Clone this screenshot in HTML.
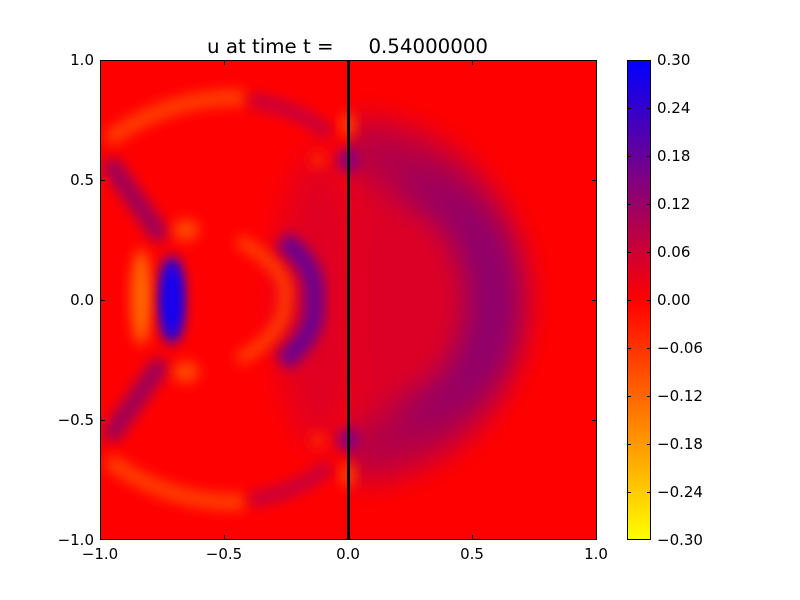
<!DOCTYPE html>
<html><head><meta charset="utf-8"><style>
html,body{margin:0;padding:0;background:#fff;}
svg{display:block;font-family:"DejaVu Sans","Liberation Sans",sans-serif;}
</style></head><body>
<svg width="800" height="600" viewBox="0 0 800 600">
<defs>
<filter id="b8" x="-50%" y="-50%" width="200%" height="200%"><feGaussianBlur stdDeviation="8"/></filter>
<filter id="b5" x="-50%" y="-50%" width="200%" height="200%"><feGaussianBlur stdDeviation="6.5"/></filter>
<filter id="b14" x="-50%" y="-50%" width="200%" height="200%"><feGaussianBlur stdDeviation="16"/></filter>
<clipPath id="pc"><rect x="100" y="60" width="497" height="480"/></clipPath>
<clipPath id="rc"><rect x="349" y="60" width="250" height="480"/></clipPath>
<linearGradient id="cb" x1="0" y1="1" x2="0" y2="0">
<stop offset="0" stop-color="#ffff00"/>
<stop offset="0.25" stop-color="#ff8000"/>
<stop offset="0.5" stop-color="#ff0000"/>
<stop offset="0.75" stop-color="#800080"/>
<stop offset="1" stop-color="#0000ff"/>
</linearGradient>
<linearGradient id="ringfade" x1="0" y1="0" x2="0" y2="1">
<stop offset="0" stop-color="#b00048"/>
<stop offset="0.3" stop-color="#8a0070"/>
<stop offset="0.5" stop-color="#880072"/>
<stop offset="0.7" stop-color="#8a0070"/>
<stop offset="1" stop-color="#b00048"/>
</linearGradient>
</defs>
<text x="207" y="53" font-size="19.8">u at time t =</text>
<text x="488" y="53" font-size="19.8" text-anchor="end">0.54000000</text>
<g clip-path="url(#pc)">
<rect x="100" y="60" width="497" height="480" fill="#ff0000"/>
<ellipse cx="320" cy="300" rx="45" ry="150" fill="#d8002a" filter="url(#b14)" opacity="0.8"/>
<g clip-path="url(#rc)">
<path d="M350,115 C465,120 528,220 528,300 C528,380 465,480 350,485 Z" fill="#dc0028" filter="url(#b14)"/>
<path d="M350,150 C448,155 495,230 495,300 C495,370 448,445 350,450" fill="none" stroke="url(#ringfade)" stroke-width="50" filter="url(#b14)" opacity="0.9"/>
<path d="M400,185 C465,205 490,250 490,300 C490,350 465,395 400,415" fill="none" stroke="#880072" stroke-width="24" filter="url(#b14)" opacity="0.8"/>
</g>
<path d="M108,140 Q170,95 245,98" fill="none" stroke="#ff4000" stroke-width="16" filter="url(#b5)"/>
<path d="M250,100 Q300,108 330,135" fill="none" stroke="#c8003a" stroke-width="16" filter="url(#b5)"/>
<path d="M108,460 Q170,505 245,502" fill="none" stroke="#ff4000" stroke-width="16" filter="url(#b5)"/>
<path d="M250,500 Q300,492 330,465" fill="none" stroke="#c8003a" stroke-width="16" filter="url(#b5)"/>
<path d="M113,168 L158,232" fill="none" stroke="#a00058" stroke-width="20" stroke-linecap="round" filter="url(#b5)"/>
<path d="M158,368 L113,432" fill="none" stroke="#a00058" stroke-width="20" stroke-linecap="round" filter="url(#b5)"/>
<ellipse cx="141" cy="297" rx="10" ry="48" fill="#ff6a00" filter="url(#b5)"/>
<ellipse cx="172" cy="300" rx="12" ry="44" fill="#1400f0" filter="url(#b5)"/>
<ellipse cx="172" cy="300" rx="8" ry="34" fill="#1400f0" filter="url(#b5)"/>
<ellipse cx="186" cy="230" rx="13" ry="11" fill="#ff4a00" filter="url(#b5)"/>
<ellipse cx="186" cy="372" rx="13" ry="11" fill="#ff4a00" filter="url(#b5)"/>
<path d="M238,240 Q292,270 285,300 Q285,335 238,360" fill="none" stroke="#ff4000" stroke-width="13" filter="url(#b5)"/>
<path d="M282,240 Q318,265 314,300 Q318,335 282,362" fill="none" stroke="#6c0090" stroke-width="20" filter="url(#b5)"/>
<ellipse cx="348" cy="160" rx="10" ry="12" fill="#7a0090" filter="url(#b5)"/>
<ellipse cx="348" cy="440" rx="10" ry="12" fill="#7a0090" filter="url(#b5)"/>
<ellipse cx="348" cy="125" rx="7" ry="12" fill="#ff4a00" filter="url(#b5)"/>
<ellipse cx="348" cy="475" rx="7" ry="12" fill="#ff4a00" filter="url(#b5)"/>
<ellipse cx="318" cy="160" rx="8" ry="8" fill="#ff2800" filter="url(#b5)"/>
<ellipse cx="318" cy="440" rx="8" ry="8" fill="#ff2800" filter="url(#b5)"/>
<line x1="348.5" y1="60" x2="348.5" y2="540" stroke="#000" stroke-width="3"/>
</g>
<rect x="100.5" y="60.5" width="496" height="479" fill="none" stroke="#000" stroke-width="1"/>
<g stroke="#000" stroke-width="1">
<line x1="100.5" y1="60" x2="100.5" y2="65"/><line x1="100.5" y1="540" x2="100.5" y2="535"/>
<line x1="224.5" y1="60" x2="224.5" y2="65"/><line x1="224.5" y1="540" x2="224.5" y2="535"/>
<line x1="348.5" y1="60" x2="348.5" y2="65"/><line x1="348.5" y1="540" x2="348.5" y2="535"/>
<line x1="472.5" y1="60" x2="472.5" y2="65"/><line x1="472.5" y1="540" x2="472.5" y2="535"/>
<line x1="596.5" y1="60" x2="596.5" y2="65"/><line x1="596.5" y1="540" x2="596.5" y2="535"/>
<line x1="100" y1="180.5" x2="105" y2="180.5"/><line x1="597" y1="180.5" x2="592" y2="180.5"/>
<line x1="100" y1="300.5" x2="105" y2="300.5"/><line x1="597" y1="300.5" x2="592" y2="300.5"/>
<line x1="100" y1="420.5" x2="105" y2="420.5"/><line x1="597" y1="420.5" x2="592" y2="420.5"/>
</g>
<g font-size="15" text-anchor="middle">
<text x="100" y="559">−1.0</text><text x="224" y="559">−0.5</text><text x="348" y="559">0.0</text><text x="472" y="559">0.5</text><text x="596" y="559">1.0</text>
</g>
<g font-size="15" text-anchor="end">
<text x="94" y="65">1.0</text><text x="94" y="185">0.5</text><text x="94" y="305">0.0</text><text x="94" y="425">−0.5</text><text x="94" y="545">−1.0</text>
</g>
<rect x="627" y="60" width="24" height="480" fill="url(#cb)"/>
<rect x="627.5" y="60.5" width="23" height="479" fill="none" stroke="#000"/>
<g stroke="#000">
<line x1="627" y1="108.5" x2="631" y2="108.5"/><line x1="651" y1="108.5" x2="647" y2="108.5"/>
<line x1="627" y1="156.5" x2="631" y2="156.5"/><line x1="651" y1="156.5" x2="647" y2="156.5"/>
<line x1="627" y1="204.5" x2="631" y2="204.5"/><line x1="651" y1="204.5" x2="647" y2="204.5"/>
<line x1="627" y1="252.5" x2="631" y2="252.5"/><line x1="651" y1="252.5" x2="647" y2="252.5"/>
<line x1="627" y1="300.5" x2="631" y2="300.5"/><line x1="651" y1="300.5" x2="647" y2="300.5"/>
<line x1="627" y1="348.5" x2="631" y2="348.5"/><line x1="651" y1="348.5" x2="647" y2="348.5"/>
<line x1="627" y1="396.5" x2="631" y2="396.5"/><line x1="651" y1="396.5" x2="647" y2="396.5"/>
<line x1="627" y1="444.5" x2="631" y2="444.5"/><line x1="651" y1="444.5" x2="647" y2="444.5"/>
<line x1="627" y1="492.5" x2="631" y2="492.5"/><line x1="651" y1="492.5" x2="647" y2="492.5"/>
</g>
<g font-size="15">
<text x="657" y="65">0.30</text><text x="657" y="113">0.24</text><text x="657" y="161">0.18</text><text x="657" y="209">0.12</text><text x="657" y="257">0.06</text><text x="657" y="305">0.00</text><text x="657" y="353">−0.06</text><text x="657" y="401">−0.12</text><text x="657" y="449">−0.18</text><text x="657" y="497">−0.24</text><text x="657" y="545">−0.30</text>
</g>
</svg>
</body></html>
